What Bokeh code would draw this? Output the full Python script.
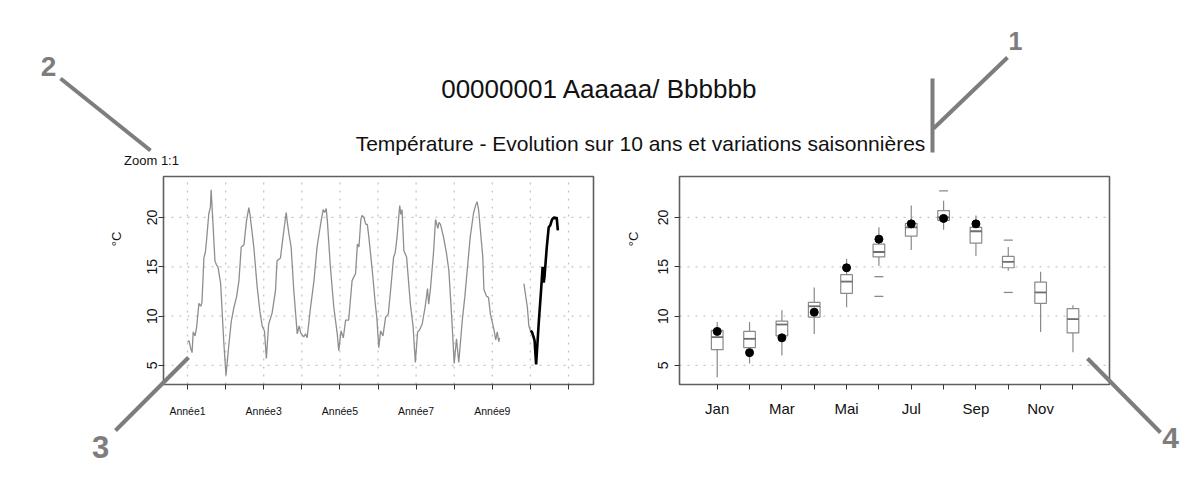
from bokeh.plotting import figure
from bokeh.models import Range1d, FixedTicker, Label, LinearAxis
from bokeh.core.properties import value
from bokeh.embed import file_html
from bokeh.resources import INLINE

FONT = "Liberation Sans"

# ---------------- texts ----------------
title_main = "00000001 Aaaaaa/ Bbbbbb"
title_sub = "Température - Evolution sur 10 ans et variations saisonnières"
zoom_text = "Zoom 1:1"
y_label = "°C"
callouts = ["1", "2", "3", "4"]

# ---------------- left panel: 10 years ----------------
year_ticks = [1, 2, 3, 4, 5, 6, 7, 8, 9, 10, 11]
year_labels = ["Année1", "", "Année3", "", "Année5", "", "Année7", "", "Année9", "", ""]

t_hist = [1.00, 1.04, 1.08, 1.12, 1.15, 1.20, 1.24, 1.30, 1.35, 1.38, 1.43, 1.47, 1.50, 1.56, 1.60, 1.62,
          1.66, 1.72, 1.76, 1.80, 1.87, 1.95, 2.01, 2.08, 2.15, 2.22, 2.29, 2.35, 2.41, 2.48, 2.55, 2.61,
          2.64, 2.68, 2.74, 2.83, 2.90, 2.96, 3.02, 3.07, 3.13, 3.22, 3.31, 3.35, 3.44, 3.50, 3.53, 3.59,
          3.62, 3.66, 3.72, 3.79, 3.88, 3.93, 3.97, 4.05, 4.10, 4.14, 4.23, 4.32, 4.40, 4.46, 4.51, 4.56,
          4.60, 4.64, 4.67, 4.75, 4.84, 4.93, 4.97, 5.03, 5.09, 5.15, 5.23, 5.32, 5.37, 5.41, 5.46, 5.50,
          5.55, 5.58, 5.63, 5.68, 5.72, 5.76, 5.85, 5.93, 5.97, 6.02, 6.07, 6.13, 6.20, 6.27, 6.33, 6.41,
          6.45, 6.50, 6.57, 6.60, 6.63, 6.68, 6.75, 6.85, 6.92, 6.98, 7.04, 7.09, 7.16, 7.24, 7.30, 7.33,
          7.38, 7.46, 7.51, 7.57, 7.60, 7.64, 7.72, 7.80, 7.86, 7.94, 8.00, 8.06, 8.12, 8.21, 8.28, 8.34,
          8.42, 8.51, 8.57, 8.60, 8.64, 8.69, 8.75, 8.78, 8.85, 8.90, 8.95, 9.04, 9.09, 9.13, 9.17, 9.19]
v_hist = [7.4, 7.5, 6.8, 6.3, 8.4, 8.0, 8.9, 11.3, 11.0, 11.4, 15.9, 16.5, 17.7, 20.4, 21.0, 22.8,
          20.0, 15.6, 15.2, 15.0, 13.3, 7.5, 4.0, 6.9, 9.5, 10.9, 12.0, 13.6, 17.0, 17.2, 19.7, 21.0,
          20.3, 19.0, 17.0, 12.9, 10.5, 9.0, 8.5, 5.7, 9.2, 10.3, 12.6, 15.6, 15.9, 17.8, 18.7, 20.5,
          19.5, 18.4, 17.0, 12.6, 8.2, 9.0, 8.3, 7.9, 8.2, 7.8, 10.9, 13.6, 17.0, 18.5, 19.7, 20.8,
          20.5, 20.9, 19.7, 15.0, 10.9, 8.2, 6.5, 8.5, 7.8, 9.6, 9.6, 13.6, 14.0, 14.3, 17.3, 17.0,
          19.8, 20.2, 20.0, 19.3, 19.3, 18.0, 14.6, 11.2, 9.8, 6.8, 8.5, 8.0, 9.9, 10.2, 12.6, 16.0,
          16.4, 18.0, 21.2, 20.3, 20.8, 16.6, 16.0, 11.2, 9.0, 5.3, 8.4, 8.6, 9.2, 11.0, 12.8, 11.2,
          12.9, 16.6, 19.8, 18.9, 19.5, 19.3, 18.0, 16.3, 14.6, 9.5, 5.2, 7.7, 5.3, 9.5, 12.0, 14.6,
          18.0, 20.5, 21.3, 21.6, 20.8, 18.6, 16.0, 12.7, 12.0, 11.9, 10.2, 8.7, 7.6, 8.4, 7.4, 7.8]

t_prev = [9.83, 9.87, 9.92, 9.96, 10.00]
v_prev = [13.3, 12.2, 10.9, 9.0, 8.5]

t_cur = [10.00, 10.04, 10.09, 10.11, 10.15, 10.22, 10.28, 10.32, 10.35, 10.37, 10.43, 10.48, 10.52,
         10.57, 10.62, 10.66, 10.69, 10.72]
v_cur = [8.5, 8.4, 7.8, 7.5, 5.1, 9.4, 12.6, 15.0, 13.4, 14.0, 17.0, 19.0, 19.2, 19.8, 20.0, 19.9,
         20.0, 18.7]

# ---------------- right panel: monthly boxplots ----------------
months = [1, 2, 3, 4, 5, 6, 7, 8, 9, 10, 11, 12]
month_labels = ["Jan", "", "Mar", "", "Mai", "", "Jul", "", "Sep", "", "Nov", ""]
box_low = [3.8, 5.2, 6.0, 8.2, 10.9, 15.1, 16.7, 18.75, 16.1, 14.6, 8.4, 6.35]
box_q1 = [6.6, 6.8, 8.0, 9.9, 12.3, 16.0, 18.1, 19.7, 17.4, 14.9, 11.3, 8.3]
box_med = [7.87, 7.7, 9.15, 11.0, 13.5, 16.5, 19.0, 20.0, 18.6, 15.5, 12.4, 9.7]
box_q3 = [8.55, 8.45, 9.5, 11.4, 14.2, 17.3, 19.4, 20.7, 19.0, 16.05, 13.45, 10.75]
box_high = [9.4, 9.4, 10.6, 12.9, 15.8, 19.0, 21.2, 21.7, 20.2, 17.0, 14.5, 11.1]
out_month = [6, 6, 8, 10, 10]
out_val = [14.0, 12.0, 22.7, 17.7, 12.4]
cur_month = [1, 2, 3, 4, 5, 6, 7, 8, 9]
cur_val = [8.45, 6.3, 7.8, 10.4, 14.9, 17.8, 19.35, 19.9, 19.35]
y_ticks = [5, 10, 15, 20]

# ---------------- layout / styles ----------------
W, H = 1198, 477
L_BOX = (163, 593)          # pixel left/right of left panel box
R_BOX = (679, 1109)         # pixel left/right of right panel box
BOX_TB = (384, 176)         # pixel bottom/top of both boxes
L_X = (0.37, 11.656)        # data limits of left panel
R_X = (-0.166, 13.13)       # data limits of right panel
Y_LIM = (3.07, 24.15)

GREY_LINE = "#8e8e8e"
BOX_C = "#8a8a8a"
GRID_C = "#c4c4c4"
FRAME_C = "#5f5f5f"
CALL_C = "#7d7d7d"
TXT_C = "#111111"


def canvas_range(lo, hi, p_lo, p_hi, p0, p1):
    s = (hi - lo) / (p_hi - p_lo)
    return Range1d(lo + (p0 - p_lo) * s, lo + (p1 - p_lo) * s)


p = figure(width=W, height=H,
           x_range=canvas_range(L_X[0], L_X[1], L_BOX[0], L_BOX[1], 0, W),
           y_range=canvas_range(Y_LIM[0], Y_LIM[1], BOX_TB[0], BOX_TB[1], H, 0),
           output_backend="svg", toolbar_location=None, min_border=0,
           x_axis_location=None, y_axis_location=None)
p.grid.visible = False
p.outline_line_color = None
p.background_fill_color = "white"
p.border_fill_color = "white"
p.extra_x_ranges = {"R": canvas_range(R_X[0], R_X[1], R_BOX[0], R_BOX[1], 0, W),
                    "px": Range1d(0, W)}
p.extra_y_ranges = {"py": Range1d(H, 0)}


def make_axis(dim, ticks, labels, loc, xr, std, font, label_std=None):
    ax = LinearAxis(x_range_name=xr, ticker=FixedTicker(ticks=ticks), fixed_location=loc)
    ax.major_label_overrides = {k: v for k, v in zip(ticks, labels)}
    ax.axis_line_color = None
    ax.major_tick_in = 0
    ax.major_tick_out = 5
    ax.major_tick_line_color = "#333333"
    ax.minor_tick_line_color = None
    ax.major_label_text_font = FONT
    ax.major_label_text_color = TXT_C
    ax.major_label_text_font_size = font
    ax.major_label_standoff = std
    if dim == "y":
        ax.major_label_orientation = "vertical"
        ax.axis_label = y_label
        ax.axis_label_text_font = FONT
        ax.axis_label_text_font_style = "normal"
        ax.axis_label_text_font_size = "13px"
        ax.axis_label_text_color = TXT_C
        ax.axis_label_standoff = label_std
        p.add_layout(ax, "left")
    else:
        p.add_layout(ax, "below")
    return ax


make_axis("x", year_ticks, year_labels, Y_LIM[0], "default", 15, "10.5px")
make_axis("y", y_ticks, [str(v) for v in y_ticks], L_X[0], "default", 1, "14px", 21)
make_axis("x", months, month_labels, Y_LIM[0], "R", 10, "15px")
make_axis("y", y_ticks, [str(v) for v in y_ticks], R_X[0], "R", 6, "14px", 15)

# grids (dotted) inside the boxes
grid_kw = dict(line_color=GRID_C, line_dash="2 6", line_width=1.3)
p.segment(x0=year_ticks, y0=[Y_LIM[0]] * len(year_ticks), x1=year_ticks, y1=[Y_LIM[1]] * len(year_ticks), **grid_kw)
p.segment(x0=[L_X[0]] * 4, y0=y_ticks, x1=[L_X[1]] * 4, y1=y_ticks, **grid_kw)
p.segment(x0=[R_X[0]] * 4, y0=y_ticks, x1=[R_X[1]] * 4, y1=y_ticks, x_range_name="R", **grid_kw)

# left panel series
p.line(x=t_hist, y=v_hist, line_color=GREY_LINE, line_width=1.3)
p.line(x=t_prev, y=v_prev, line_color=GREY_LINE, line_width=1.3)
p.line(x=t_cur, y=v_cur, line_color="black", line_width=2.6)

# right panel boxplots
half = 0.18
p.segment(x0=months, y0=box_q3, x1=months, y1=box_high, line_color=BOX_C, line_width=1.2, x_range_name="R")
p.segment(x0=months, y0=box_low, x1=months, y1=box_q1, line_color=BOX_C, line_width=1.2, x_range_name="R")
p.vbar(x=months, width=2 * half, bottom=box_q1, top=box_q3, fill_color="white",
       line_color=BOX_C, line_width=1.2, x_range_name="R")
p.segment(x0=[m - half for m in months], y0=box_med, x1=[m + half for m in months], y1=box_med,
          line_color="#6e6e6e", line_width=1.8, x_range_name="R")
p.scatter(x=out_month, y=out_val, marker="dash", size=9, line_color=BOX_C, line_width=1.3, x_range_name="R")
p.scatter(x=cur_month, y=cur_val, size=8, fill_color="black", line_color="black", x_range_name="R")

# panel frames
p.quad(left=[L_X[0]], right=[L_X[1]], bottom=[Y_LIM[0]], top=[Y_LIM[1]], fill_color=None,
       line_color=FRAME_C, line_width=1.6)
p.quad(left=[R_X[0]], right=[R_X[1]], bottom=[Y_LIM[0]], top=[Y_LIM[1]], fill_color=None,
       line_color=FRAME_C, line_width=1.6, x_range_name="R")

# titles
pk = dict(x_range_name="px", y_range_name="py", text_align="center", text_baseline="middle", text_font=FONT)
p.add_layout(Label(x=599, y=88, text=title_main, text_font_size="26px", text_color=TXT_C, **pk))
p.add_layout(Label(x=640, y=143, text=title_sub, text_font_size="21px", text_color=TXT_C, **pk))
p.add_layout(Label(x=151, y=160, text=zoom_text, text_font_size="13px", text_color=TXT_C, **pk))

# call-outs
lk = dict(line_color=CALL_C, line_width=4, x_range_name="px", y_range_name="py")
p.line(x=[932, 932], y=[78, 152], **lk)
p.line(x=[933, 1007], y=[128, 57], **lk)
p.line(x=[60, 150], y=[78, 150], **lk)
p.line(x=[188, 115], y=[357, 430], **lk)
p.line(x=[1087, 1160], y=[358, 432], **lk)
ck = dict(text_font_style="bold", text_color=CALL_C, **pk)
p.add_layout(Label(x=1015, y=40, text=callouts[0], text_font_size="25px", **ck))
p.add_layout(Label(x=48, y=66, text=callouts[1], text_font_size="28px", **ck))
p.add_layout(Label(x=100, y=446, text=callouts[2], text_font_size="31px", **ck))
p.add_layout(Label(x=1170, y=437, text=callouts[3], text_font_size="30px", **ck))

open("out.html", "w").write(file_html(p, INLINE))
